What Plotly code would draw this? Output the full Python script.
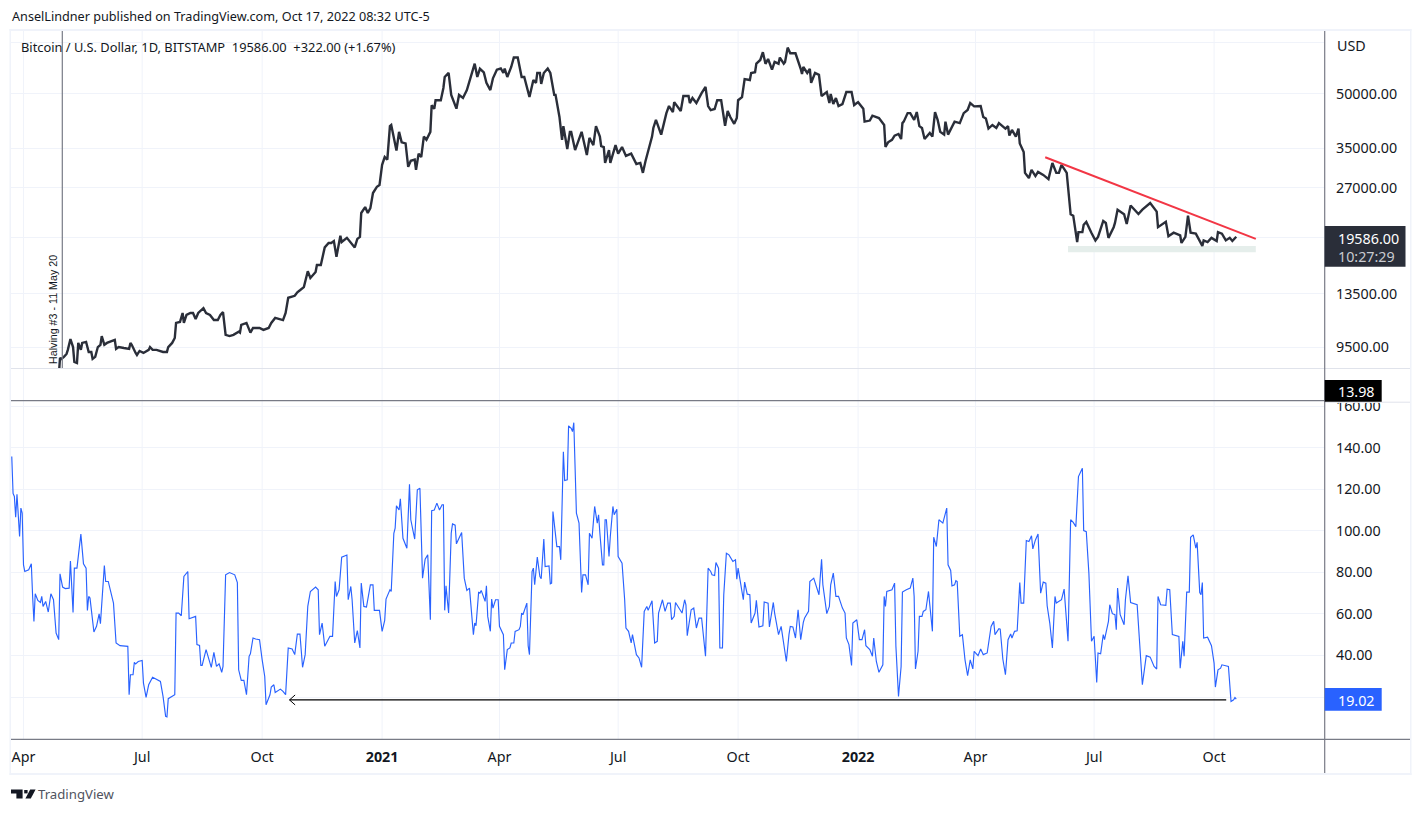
import pandas as pd
import plotly.graph_objects as go

# (days since 2020-04-01, value)
price_2020 = [(-9,6200),(0,6400),(10,6900),(20,7100),(27,7800),(28,8845),(29,8790),(31,8905),(33,9080),(34,9325),(36,10010),(38,9500),(39,8610),(41,8550),(42,9760),(44,9325),(45,9760),(48,9825),(50,9200),(52,9200),(53,8790),(55,8905),(57,9500),(59,9640),(60,10210),(62,9640),(64,9760),(70,9960),(71,9390),(73,9500),(77,9440),(81,9390),(82,9760),(83,9640),(86,9140),(87,9020),(89,9260),(92,9140),(96,9325),(97,9500),(99,9325),(102,9325),(107,9200),(110,9200),(111,9500),(114,9760),(116,10080),(117,11130),(120,11200),(122,11880),(123,11130),(125,11730),(128,11880),(130,11880),(132,11420),(134,11880),(138,12260),(140,11880),(143,11730),(146,11340),(149,11340),(151,11730),(153,11950),(155,10290),(158,10210),(161,10290),(165,10510),(166,10440),(167,10990),(171,11130),(174,10440),(176,10770),(181,10770),(184,10630),(188,10770),(190,11130),(193,11500),(199,11340),(201,11880),(203,13130),(208,13300),(210,13610),(212,13790),(215,14080),(218,15630),(220,14950),(224,15540),(225,16280),(228,16280),(231,18270),(234,18810),(236,18810),(238,19050),(240,17190),(243,19710),(244,18930),(248,19450),(252,18570),(254,18270),(256,19320),(258,19580),(259,22900),(262,23800),(264,22900),(266,23640),(268,26100),(271,27200),(273,27500)]
price_2021 = [(275,31400),(277,33050),(279,32500),(281,40500),(282,40800),(286,34500),(288,39000),(290,36400),(293,36150),(295,31000),(297,32240),(300,32500),(301,30400),(303,33800),(305,33050),(307,37800),(309,37000),(312,39000),(313,46450),(315,45400),(316,48000),(320,48000),(322,52000),(323,55900),(326,57400),(328,49700),(332,45400),(334,49700),(337,48700),(340,51300),(343,55900),(346,61000),(348,55900),(350,59000),(353,57600),(355,53800),(358,51300),(360,55400),(363,58650),(366,59100),(368,57400),(369,59100),(371,55900),(374,59700),(376,63500),(379,63500),(382,55900),(384,55900),(388,49000),(391,54800),(393,53800),(394,57400),(396,57400),(397,53400),(399,57400),(402,59100),(404,57400),(407,49700),(408,49700),(411,43000),(413,37000),(414,40500),(417,34850),(419,39000),(420,39000),(423,34600),(428,39000),(430,35730),(432,33500),(434,37500),(437,35730),(439,40500),(442,37800),(443,35500),(445,35300),(446,31800),(449,34600),(450,31800),(454,35730),(456,33800),(459,35300),(462,33300),(466,33800),(470,31580),(473,31800),(475,29800),(477,32200),(482,37800),(483,40000),(485,42200),(489,38300),(493,44100),(495,46200),(498,44400),(499,47400),(504,44700),(506,49350),(510,49350),(511,47100),(513,48700),(516,47100),(520,50300),(523,52350),(525,46200),(527,45000),(530,45300),(532,48000),(535,48000),(538,40600),(540,44700),(542,43000),(545,41100),(547,42700),(548,48000),(551,49000),(553,55150),(557,54800),(558,57400),(561,57700),(562,61000),(565,62500),(567,65800),(569,60950),(571,62900),(574,58650),(576,61700),(579,61000),(580,63500),(583,61000),(584,61700),(586,67800),(588,65300),(592,65300),(596,59000),(597,57000),(598,59700),(601,57400),(603,59000),(604,53800),(607,57400),(610,56700),(612,49350),(616,50650),(618,47100),(619,50000),(621,46800),(623,48700),(625,46200),(628,46800),(631,50650),(635,50650)]
price_2022 = [(637,46500),(640,47400),(644,45400),(645,41700),(649,42000),(651,43350),(656,42700),(660,40800),(661,35300),(663,36400),(666,37000),(668,38050),(671,38450),(673,37200),(674,41300),(675,41700),(678,44100),(680,44100),(683,42200),(685,44400),(687,40500),(689,40000),(691,37200),(695,38700),(697,37800),(699,44400),(701,42200),(703,39000),(706,38300),(707,41700),(709,38300),(711,39500),(714,41700),(718,41300),(721,44100),(724,45000),(726,47100),(729,46100),(734,46200),(736,43000),(738,42550),(740,39850),(743,40800),(746,40000),(748,41300),(753,39850),(755,40500),(756,38050),(758,39500),(761,37800),(763,39850),(764,36150),(767,34180),(768,29800),(771,28800),(773,30400),(776,29170),(778,29980),(782,29400),(786,28600),(789,31800),(792,29800),(794,29800),(796,31400),(800,29800),(801,27200),(803,22700),(805,22500),(807,20200),(808,18930),(809,20200),(812,20200),(813,21200),(815,21600),(819,20080),(822,19130),(824,19580),(828,21730),(830,21450),(832,19450),(836,20860),(837,21450),(839,23400),(841,23100),(844,22700),(846,21300),(849,24050),(855,22750),(858,23400),(864,24450),(869,23100),(870,20860),(876,21600),(878,19650),(882,20120),(887,19770),(888,18810),(891,19580),(893,22500),(895,20120),(899,20000),(904,18450),(905,19130),(908,18930),(911,19450),(915,19050),(916,20200),(919,20000),(922,19130),(925,19450),(927,19050),(930,19586)]

vol_2020 = [(-9,135.7),(-8,118),(-7,116.5),(-6,106.5),(-5,117.6),(-3,97.2),(-2,110.9),(-1,108.5),(0,83.6),(1,80.4),(4,81.2),(6,84.1),(7,68.4),(8,56.4),(9,69.7),(11,66.5),(13,65.5),(14,68.4),(15,63.6),(17,66),(19,60.9),(21,69.7),(23,66.8),(25,50.8),(27,47.6),(28,79.3),(30,72.9),(32,72.2),(35,72.4),(36,85.4),(38,60.7),(39,82),(41,82),(44,98.4),(46,84.1),(48,82),(49,61.7),(50,68.4),(51,67.6),(54,51.3),(56,54),(58,60),(59,55.3),(62,83.3),(63,75.6),(65,75.6),(69,65.2),(71,46),(74,44.7),(80,44.4),(81,21.1),(82,30.7),(84,30.7),(85,36.7),(86,35.9),(88,37.1),(91,37.6),(92,26.7),(94,19.8),(96,25.9),(99,29.5),(105,27.5),(107,20.3),(109,10.7),(110,10.4),(111,19.2),(116,21.1),(117,60.4),(119,60.4),(121,59.1),(123,78),(126,80.4),(127,57.7),(132,58.8),(133,45.2),(135,44.8),(136,35.2),(137,35.2),(140,42.8),(144,34.3),(146,41.5),(148,34.7),(150,36),(152,31.9),(153,34.7),(155,78.8),(158,79.9),(162,78.8),(164,75.1),(165,33.1),(167,28),(169,28),(171,21.1),(173,39.6),(174,40.8),(176,48.4),(178,47.9),(181,47.6),(183,38),(185,29.9),(186,16.3),(189,21.1),(190,24.8),(192,25.9),(193,22.2),(197,23.8),(199,22.7),(201,21.1),(203,43.6),(206,43.1),(208,40.4),(210,50.3),(212,50.3),(214,34.3),(216,40.4),(218,63.6),(220,70.8),(224,72.9),(226,71.6),(227,50),(229,55.6),(231,44.4),(235,49.2),(237,49.2),(239,75.6),(240,68.4),(242,71.6),(244,87.3),(248,88.3),(249,66.8),(251,73.2),(252,66.8),(254,46),(256,52),(258,43.6),(259,74.8),(261,63.6),(263,63.3),(266,74),(268,74),(269,61.7),(273,61.7)]
vol_2021 = [(275,51.6),(277,56.9),(278,67.1),(281,71.6),(282,70.8),(284,98.8),(285,101.3),(286,112),(288,110),(289,115.4),(291,96.4),(294,91.6),(296,122.4),(297,105.3),(300,96),(302,119.7),(304,120.5),(306,77.2),(308,86.3),(310,88.4),(312,57.2),(313,109.7),(315,110),(317,113.3),(319,110),(321,112.5),(322,112.5),(323,61.7),(324,73.5),(326,60.4),(328,98.8),(329,103.3),(331,102.7),(332,93.7),(336,99.2),(338,77.2),(340,71.3),(342,72.4),(345,50),(346,55.6),(347,54.3),(349,70.3),(350,70),(351,71.3),(354,66),(355,73.5),(356,58.8),(358,51.6),(359,67.1),(360,62.8),(362,66.8),(364,66.8),(365,54),(368,50),(369,33.1),(371,42.8),(373,43.6),(374,46),(376,46),(377,51.6),(380,52.4),(381,54),(382,60.4),(383,59.6),(386,65.2),(387,44.7),(388,40.4),(390,80.4),(391,82),(392,74),(394,87.3),(396,78),(397,76.9),(399,96),(400,82.8),(403,83.1),(404,74.5),(405,74.8),(406,109.3),(409,92.4),(411,92.4),(412,86),(414,138),(415,124.2),(417,124.5),(418,150.5),(420,149.3),(421,147.7),(422,152),(424,108.5),(426,103.7),(428,70.3),(429,78.8),(431,78.8),(433,74),(434,98.8),(436,96.4),(438,111.7),(440,103.7),(441,107.7),(442,98.8),(444,83.6),(445,83.6),(446,105.3),(447,105.3),(449,87.6),(450,97.2),(452,111.7),(453,107.7),(455,110.4),(456,87.6),(459,84.4),(461,66.8),(462,53.2),(464,51.6),(466,46),(467,50),(470,40.4),(472,38.8),(474,34.3),(476,61.2),(478,63.6),(479,61.7),(482,66.3),(484,46),(486,46.8),(487,60.4),(490,66.8),(492,61.2),(494,65.2),(496,65.2),(497,57.2),(499,58.8),(500,65.5),(505,60.4),(507,66.8),(508,64.4),(509,49.5),(512,62),(514,62.8),(516,53.2),(518,58),(520,58),(521,51.6),(523,39.6),(525,82),(527,80.4),(528,78.8),(530,78.5),(531,84.7),(533,82),(534,43.6),(536,43.6),(537,69.2),(539,89.2),(541,88.4),(544,85.2),(546,86),(547,76.7),(548,82),(552,66.8),(553,75.3),(555,69.5),(557,69.2),(558,55.6),(561,60.4),(562,66.5),(564,53.7),(567,54.3),(568,65.7),(571,65.2),(572,53.7),(575,65.5),(576,60.4),(579,50),(581,54),(583,44.4),(585,37.1),(587,50),(588,54),(590,53.7),(592,48.4),(594,62),(596,47.6),(598,55.9),(599,58),(602,61.2),(603,75.6),(606,77.2),(610,69.2),(612,86.3),(613,74),(616,60.1),(618,63.6),(619,74),(621,79.6),(623,68.4),(625,68.4),(628,62.8),(630,60.4),(631,48.4),(633,45.2),(635,35.2)]
vol_2022 = [(636,55.6),(639,57.2),(640,51.6),(641,47.6),(643,47.6),(645,52.4),(646,44.7),(649,42.8),(651,39.6),(652,48.4),(654,37.1),(656,31.9),(659,35.5),(660,68.4),(661,63.6),(662,70.8),(666,71.6),(668,74.8),(669,44.4),(671,20.3),(673,34.7),(674,70.5),(677,71.6),(680,72.4),(682,77.2),(683,68.4),(684,33.5),(686,42),(687,58.8),(689,58.8),(690,61.2),(692,62),(694,70.8),(695,65.2),(697,51.6),(698,96.9),(700,92.4),(702,105.3),(704,104),(705,103.7),(708,110.9),(709,83.6),(711,80.9),(712,73.5),(714,74),(715,76),(716,75.6),(718,49.2),(720,50),(722,37.9),(724,30.3),(726,37.9),(728,33.5),(729,42),(732,39.9),(734,43.1),(736,40.4),(739,41.2),(742,54),(744,56.4),(745,50),(748,52.9),(749,52.7),(751,38.3),(753,30.7),(755,47.6),(757,50.3),(758,48.4),(760,51.6),(762,51.9),(764,75.1),(765,65.2),(767,65.2),(769,95.3),(771,94.8),(773,97.6),(774,91.3),(776,95.6),(778,98.4),(779,79.6),(780,70),(782,75.3),(784,74.8),(785,63.9),(787,55.6),(789,43.6),(790,57.2),(791,68.4),(792,65.2),(796,66.8),(798,71.9),(800,56.4),(801,46.8),(803,105.3),(805,104),(807,102),(809,126.1),(812,130.1),(813,100.1),(815,99.6),(817,79.6),(819,46.8),(821,49.2),(823,27),(824,41.2),(826,40.8),(828,50),(829,47.6),(832,56.4),(833,64.4),(835,60.1),(837,59.6),(838,52.4),(839,72.4),(841,59.6),(844,54.8),(845,66.8),(847,78.3),(849,65.5),(854,64.4),(855,54),(856,41.2),(858,25.9),(861,39.9),(864,39.2),(867,34.7),(869,33.5),(870,68.4),(872,64.4),(876,64.1),(877,71.9),(879,71.6),(881,50),(886,49.2),(887,33.9),(889,46.8),(890,39.6),(892,70.5),(894,70.5),(895,96.9),(897,98),(899,91.6),(900,94.4),(902,70.3),(903,69.2),(904,75.1),(905,48.4),(908,48.8),(911,44.7),(913,36.3),(914,24.8),(916,33.1),(918,33.9),(919,35.5),(924,34.7),(926,17.9),(928,18.7),(929,19.8),(930,19.02)]

trend_days = [783.5, 945]
trend_usd = [33010, 19320]
band_days = [801, 945, 945, 801, 801]
band_usd = [18450, 18450, 17690, 17690, 18450]
arrow_days = [922.3, 204]
arrow_vals = [18.6, 18.6]
arrow_head_days = [208.3, 204, 208.3]
arrow_head_vals = [21, 18.6, 16.2]

price_ticks = [70000, 50000, 35000, 27000, 19500, 13500, 9500]
price_labels = ["", "50000.00", "35000.00", "27000.00", "", "13500.00", "9500.00"]
vol_ticks = [160, 140, 120, 100, 80, 60, 40, 20]
vol_labels = ["160.00", "140.00", "120.00", "100.00", "80.00", "60.00", "40.00", ""]
time_ticks = ["2020-04-01", "2020-07-01", "2020-10-01", "2021-01-01", "2021-04-01", "2021-07-01",
              "2021-10-01", "2022-01-01", "2022-04-01", "2022-07-01", "2022-10-01"]
time_labels = ["Apr", "Jul", "Oct", "<b>2021</b>", "Apr", "Jul", "Oct", "<b>2022</b>", "Apr", "Jul", "Oct"]

W, H = 1423, 813
ORIGIN = pd.Timestamp("2020-04-01")
INK = "#131722"
GRID = "#f0f3fa"
FONT = "Noto Sans"


def px(x):
    return x / W


def py(y):
    return 1 - y / H


def when(days):
    return [(ORIGIN + pd.Timedelta(days=d)).strftime("%Y-%m-%d %H:%M") for d in days]


def unpack(*parts):
    pts = [p for part in parts for p in part]
    return when([p[0] for p in pts]), [p[1] for p in pts]


def rect(x0, y0, x1, y1, fill):
    return dict(type="rect", xref="paper", yref="paper", x0=px(x0), x1=px(x1), y0=py(y0), y1=py(y1),
                fillcolor=fill, line_width=0, layer="above")


def hline(y, x0, x1, color, width=1):
    return dict(type="line", xref="paper", yref="paper", x0=px(x0), x1=px(x1), y0=py(y), y1=py(y),
                line=dict(color=color, width=width), layer="above")


def vline(x, y0, y1, color, width=1):
    return dict(type="line", xref="paper", yref="paper", x0=px(x), x1=px(x), y0=py(y0), y1=py(y1),
                line=dict(color=color, width=width), layer="above")


def poly(points, fill):
    d = "M" + " L".join(f"{px(x):.5f},{py(y):.5f}" for x, y in points) + " Z"
    return dict(type="path", xref="paper", yref="paper", path=d, fillcolor=fill, line_width=0, layer="above")


def note(x, y, text, size, color=INK, anchor="left", family=FONT, angle=0):
    return dict(xref="paper", yref="paper", x=px(x), y=py(y), text=text, showarrow=False, xanchor=anchor,
                yanchor="middle", textangle=angle, borderpad=0, font=dict(family=family, size=size, color=color))


fig = go.Figure()
bx, by = when(band_days), band_usd
fig.add_trace(go.Scatter(x=bx, y=by, yaxis="y", mode="lines", fill="toself", fillcolor="#e5eeeb", line=dict(width=0)))
dx, dy = unpack(price_2020, price_2021, price_2022)
fig.add_trace(go.Scatter(x=dx, y=dy, yaxis="y", mode="lines", line=dict(color="#2a2e39", width=2.4)))
fig.add_trace(go.Scatter(x=when(trend_days), y=trend_usd, yaxis="y", mode="lines", line=dict(color="#f23645", width=2)))
vx, vy = unpack(vol_2020, vol_2021, vol_2022)
fig.add_trace(go.Scatter(x=vx, y=vy, yaxis="y2", mode="lines", line=dict(color="#2962ff", width=1.15)))
fig.add_trace(go.Scatter(x=when(arrow_days), y=arrow_vals, yaxis="y2", mode="lines", line=dict(color="#000000", width=1.2)))
fig.add_trace(go.Scatter(x=when(arrow_head_days), y=arrow_head_vals, yaxis="y2", mode="lines", line=dict(color="#000000", width=1)))

shapes = [dict(type="line", xref="x", yref="paper", x0=t, x1=t, y0=py(739), y1=py(31),
               line=dict(color=GRID, width=1), layer="below") for t in time_ticks]
shapes += [
    rect(1325, 369, 1410, 402.7, "#ffffff"),
    rect(9.5, 29, 1411.5, 31, GRID), rect(9.5, 773, 1411.5, 775, GRID),
    rect(9.5, 29, 11, 775, GRID), rect(1410, 29, 1411.5, 775, GRID),
    hline(368.5, 11, 1410, "#e0e3eb"),
    hline(402.2, 1324, 1410, "#e0e3eb"),
    hline(400.7, 11, 1324, "#787b86", 1.2),
    hline(739.3, 11, 1410, "#787b86", 1.2),
    vline(1324.7, 31, 773, "#787b86", 1.2),
    vline(62.3, 31, 368, "#787b86", 1.2),
    rect(1324.7, 226, 1405.5, 266.7, "#2a2e39"),
    rect(1324.7, 380, 1381.7, 401.7, "#000000"),
    rect(1324.7, 688, 1381.7, 710.7, "#2962ff"),
    poly([(11, 789.4), (22.6, 789.4), (22.6, 798.4), (16.4, 798.4), (16.4, 793.4), (11, 793.4)], "#131722"),
    poly([(24.2, 790), (27.6, 790), (27.6, 793.4), (24.2, 793.4)], "#131722"),
    poly([(30.2, 789.4), (35.6, 789.4), (30.8, 798.4), (25.4, 798.4)], "#131722"),
]

annotations = [
    note(11, 16, "AnselLindner published on TradingView.com, Oct 17, 2022 08:32 UTC-5", 12.65),
    note(20, 46.5, "Bitcoin / U.S. Dollar, 1D, BITSTAMP\u00a0\u00a019586.00\u00a0\u00a0+322.00 (+1.67%)", 12.85),
    note(1336, 45, "USD", 14.3),
    note(53, 310, "Halving #3 - 11 May 20", 10.7, family="Liberation Sans", anchor="center", angle=-90),
    note(1337, 238, "19586.00", 14.3, color="#ffffff"),
    note(1337, 256.5, "10:27:29", 14.3, color="#c9cbd1"),
    note(1337, 391.5, "13.98", 14.3, color="#ffffff"),
    note(1337, 700, "19.02", 14.3, color="#ffffff"),
    note(37, 794, "TradingView", 13.2, color="#50535e"),
]

fig.update_layout(
    width=W, height=H, margin=dict(l=0, r=0, t=0, b=0, pad=0, autoexpand=False),
    paper_bgcolor="#ffffff", plot_bgcolor="rgba(0,0,0,0)", showlegend=False, hovermode=False,
    font=dict(family=FONT, color=INK, size=14.3),
    shapes=shapes, annotations=annotations,
    xaxis=dict(type="date", domain=[px(11), px(1324)], range=["2020-03-22 10:00", "2022-12-24 07:00"],
               anchor="y2", showgrid=False, zeroline=False, showline=False, tickmode="array",
               tickvals=time_ticks, ticktext=time_labels, ticks="", tickangle=0, ticklabelstandoff=8,
               tickfont=dict(family=FONT, size=14.3, color=INK)),
    yaxis=dict(type="log", domain=[py(368), py(31)], range=[3.918, 4.8785], side="right", anchor="x",
               tickmode="array", tickvals=price_ticks, ticktext=price_labels, showgrid=True, gridcolor=GRID,
               gridwidth=1, zeroline=False, showline=False, ticks="", ticklabelstandoff=11,
               tickfont=dict(family=FONT, size=14.3, color=INK)),
    yaxis2=dict(domain=[py(739), py(401.5)], range=[-0.2, 162.2], side="right", anchor="x",
                tickmode="array", tickvals=vol_ticks, ticktext=vol_labels, showgrid=True, gridcolor=GRID,
                gridwidth=1, zeroline=False, showline=False, ticks="", ticklabelstandoff=11,
                tickfont=dict(family=FONT, size=14.3, color=INK)),
)

fig.write_html("out.html", config=dict(displayModeBar=False),
               post_script="document.body.style.margin='0';document.documentElement.style.overflow='hidden';")
